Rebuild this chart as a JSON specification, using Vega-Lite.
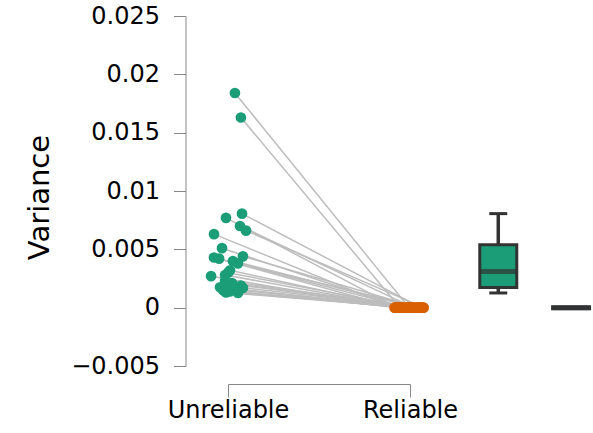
{
  "$schema": "https://vega.github.io/schema/vega-lite/v6.json",
  "width": 182,
  "height": 350,
  "autosize": {"type": "none"},
  "padding": {"left": 228, "top": 16, "right": 183, "bottom": 67},
  "background": "white",
  "config": {
    "view": {"stroke": null},
    "font": "DejaVu Sans",
    "axis": {
      "grid": false,
      "domainColor": "#888888",
      "tickColor": "#888888",
      "labelColor": "#000000",
      "labelFont": "DejaVu Sans",
      "labelFontSize": 24,
      "titleFont": "DejaVu Sans",
      "titleFontWeight": "normal",
      "titleColor": "#000000"
    }
  },
  "data": {
    "values": [
      {"pair": 1, "condition": "Unreliable", "pos": 1.038, "variance": 0.0184},
      {"pair": 2, "condition": "Unreliable", "pos": 1.071, "variance": 0.0163},
      {"pair": 3, "condition": "Unreliable", "pos": 1.077, "variance": 0.00806},
      {"pair": 4, "condition": "Unreliable", "pos": 0.989, "variance": 0.0077},
      {"pair": 5, "condition": "Unreliable", "pos": 1.066, "variance": 0.0070},
      {"pair": 6, "condition": "Unreliable", "pos": 1.099, "variance": 0.0066},
      {"pair": 7, "condition": "Unreliable", "pos": 0.923, "variance": 0.0063},
      {"pair": 8, "condition": "Unreliable", "pos": 0.967, "variance": 0.0051},
      {"pair": 9, "condition": "Unreliable", "pos": 1.082, "variance": 0.0044},
      {"pair": 10, "condition": "Unreliable", "pos": 0.923, "variance": 0.0043},
      {"pair": 11, "condition": "Unreliable", "pos": 0.951, "variance": 0.0042},
      {"pair": 12, "condition": "Unreliable", "pos": 1.027, "variance": 0.0040},
      {"pair": 13, "condition": "Unreliable", "pos": 1.055, "variance": 0.0038},
      {"pair": 14, "condition": "Unreliable", "pos": 1.011, "variance": 0.0032},
      {"pair": 15, "condition": "Unreliable", "pos": 1.000, "variance": 0.0030},
      {"pair": 16, "condition": "Unreliable", "pos": 0.984, "variance": 0.0028},
      {"pair": 17, "condition": "Unreliable", "pos": 0.907, "variance": 0.0027},
      {"pair": 18, "condition": "Unreliable", "pos": 0.984, "variance": 0.0023},
      {"pair": 19, "condition": "Unreliable", "pos": 1.022, "variance": 0.0021},
      {"pair": 20, "condition": "Unreliable", "pos": 1.071, "variance": 0.0019},
      {"pair": 21, "condition": "Unreliable", "pos": 0.956, "variance": 0.00175},
      {"pair": 22, "condition": "Unreliable", "pos": 1.082, "variance": 0.0017},
      {"pair": 23, "condition": "Unreliable", "pos": 1.005, "variance": 0.0016},
      {"pair": 24, "condition": "Unreliable", "pos": 1.038, "variance": 0.0016},
      {"pair": 25, "condition": "Unreliable", "pos": 0.973, "variance": 0.0015},
      {"pair": 26, "condition": "Unreliable", "pos": 1.011, "variance": 0.0014},
      {"pair": 27, "condition": "Unreliable", "pos": 0.989, "variance": 0.0013},
      {"pair": 28, "condition": "Unreliable", "pos": 1.055, "variance": 0.00126},
      {"pair": 1, "condition": "Reliable", "pos": 1.995, "variance": 0},
      {"pair": 2, "condition": "Reliable", "pos": 1.945, "variance": 0},
      {"pair": 3, "condition": "Reliable", "pos": 2.060, "variance": 0},
      {"pair": 4, "condition": "Reliable", "pos": 1.930, "variance": 0},
      {"pair": 5, "condition": "Reliable", "pos": 2.020, "variance": 0},
      {"pair": 6, "condition": "Reliable", "pos": 2.075, "variance": 0},
      {"pair": 7, "condition": "Reliable", "pos": 1.915, "variance": 0},
      {"pair": 8, "condition": "Reliable", "pos": 1.960, "variance": 0},
      {"pair": 9, "condition": "Reliable", "pos": 2.050, "variance": 0},
      {"pair": 10, "condition": "Reliable", "pos": 1.925, "variance": 0},
      {"pair": 11, "condition": "Reliable", "pos": 1.985, "variance": 0},
      {"pair": 12, "condition": "Reliable", "pos": 2.035, "variance": 0},
      {"pair": 13, "condition": "Reliable", "pos": 2.065, "variance": 0},
      {"pair": 14, "condition": "Reliable", "pos": 1.950, "variance": 0},
      {"pair": 15, "condition": "Reliable", "pos": 2.005, "variance": 0},
      {"pair": 16, "condition": "Reliable", "pos": 1.970, "variance": 0},
      {"pair": 17, "condition": "Reliable", "pos": 1.920, "variance": 0},
      {"pair": 18, "condition": "Reliable", "pos": 2.040, "variance": 0},
      {"pair": 19, "condition": "Reliable", "pos": 1.990, "variance": 0},
      {"pair": 20, "condition": "Reliable", "pos": 2.070, "variance": 0},
      {"pair": 21, "condition": "Reliable", "pos": 1.940, "variance": 0},
      {"pair": 22, "condition": "Reliable", "pos": 2.055, "variance": 0},
      {"pair": 23, "condition": "Reliable", "pos": 2.010, "variance": 0},
      {"pair": 24, "condition": "Reliable", "pos": 2.025, "variance": 0},
      {"pair": 25, "condition": "Reliable", "pos": 1.955, "variance": 0},
      {"pair": 26, "condition": "Reliable", "pos": 1.980, "variance": 0},
      {"pair": 27, "condition": "Reliable", "pos": 2.000, "variance": 0},
      {"pair": 28, "condition": "Reliable", "pos": 2.045, "variance": 0}
    ]
  },
  "layer": [
    {
      "mark": {"type": "line", "color": "#bdbdbd", "strokeWidth": 1.5},
      "encoding": {
        "x": {
          "field": "pos",
          "type": "quantitative",
          "scale": {"domain": [1, 2], "nice": false, "zero": false, "padding": 0},
          "axis": {
            "title": null,
            "values": [1, 2],
            "labelExpr": "datum.value == 1 ? 'Unreliable' : 'Reliable'",
            "offset": 18,
            "tickSize": 13,
            "labelPadding": 1,
            "labelFlush": false,
            "labelOverlap": false
          }
        },
        "y": {
          "field": "variance",
          "type": "quantitative",
          "scale": {"domain": [-0.005, 0.025], "nice": false, "zero": false, "padding": 0},
          "axis": {
            "title": "Variance",
            "titleFontSize": 29,
            "titlePadding": 16,
            "titleY": 181,
            "values": [-0.005, 0, 0.005, 0.01, 0.015, 0.02, 0.025],
            "format": "~g",
            "offset": 42.5,
            "tickSize": 12,
            "labelPadding": 14,
            "labelFlush": false,
            "labelOverlap": false
          }
        },
        "detail": {"field": "pair", "type": "nominal"}
      }
    },
    {
      "mark": {"type": "circle", "size": 115, "opacity": 1},
      "encoding": {
        "x": {"field": "pos", "type": "quantitative"},
        "y": {"field": "variance", "type": "quantitative", "title": "Variance"},
        "color": {
          "field": "condition",
          "type": "nominal",
          "scale": {"domain": ["Unreliable", "Reliable"], "range": ["#1b9e77", "#d95f02"]},
          "legend": null
        }
      }
    },
    {
      "transform": [{"filter": "datum.condition == 'Unreliable'"}],
      "mark": {
        "type": "boxplot",
        "orient": "vertical",
        "extent": 1.5,
        "outliers": false,
        "size": 37,
        "color": "#1b9e77",
        "box": {"stroke": "#333333", "strokeWidth": 3},
        "median": {"color": "#333333", "thickness": 5},
        "rule": {"color": "#333333", "strokeWidth": 3.5},
        "ticks": {"color": "#333333", "size": 18, "thickness": 3}
      },
      "encoding": {
        "x": {"datum": 2.485, "type": "quantitative"},
        "y": {"field": "variance", "type": "quantitative", "title": "Variance"}
      }
    },
    {
      "transform": [{"filter": "datum.condition == 'Reliable'"}],
      "mark": {
        "type": "boxplot",
        "orient": "vertical",
        "extent": 1.5,
        "outliers": false,
        "size": 37,
        "color": "#333333",
        "box": {"stroke": "#333333", "strokeWidth": 3, "color": "#333333"},
        "median": {"color": "#333333", "thickness": 5},
        "rule": {"color": "#333333", "strokeWidth": 3.5},
        "ticks": {"color": "#333333", "size": 18, "thickness": 3}
      },
      "encoding": {
        "x": {"datum": 2.885, "type": "quantitative"},
        "y": {"field": "variance", "type": "quantitative", "title": "Variance"}
      }
    },
    {
      "transform": [{"filter": "datum.condition == 'Reliable'"}],
      "mark": {"type": "tick", "orient": "horizontal", "color": "#333333", "opacity": 1, "size": 40, "thickness": 5},
      "encoding": {
        "x": {"datum": 2.885, "type": "quantitative"},
        "y": {"aggregate": "median", "field": "variance", "type": "quantitative", "title": "Variance"}
      }
    }
  ]
}
